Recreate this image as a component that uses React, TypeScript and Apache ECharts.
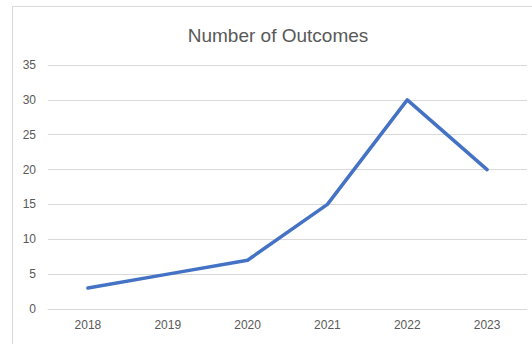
import React, { useEffect, useRef } from "react";
import * as echarts from "echarts";

const categories = ["2018", "2019", "2020", "2021", "2022", "2023"];
const outcomes = [3, 5, 7, 15, 30, 20];
const chartTitle = "Number of Outcomes";

export default function App() {
  const ref = useRef<HTMLDivElement>(null);
  useEffect(() => {
    if (!ref.current) return;
    const chart = echarts.init(ref.current, undefined, { renderer: "svg" });
    const font = "Liberation Sans, Arial, sans-serif";
    chart.setOption({
      animation: false,
      backgroundColor: "#ffffff",
      title: {
        text: chartTitle,
        left: 273,
        top: 21,
        textAlign: "center",
        textStyle: { fontFamily: font, fontSize: 19, fontWeight: "normal", color: "#595959" },
      },
      graphic: [
        {
          type: "rect",
          shape: { x: 12.5, y: 6.5, width: 600, height: 400 },
          style: { fill: "none", stroke: "#d9d9d9", lineWidth: 1 },
          silent: true,
        },
      ],
      grid: { left: 48, right: 5, top: 65, bottom: 35 },
      xAxis: {
        type: "category",
        data: categories,
        boundaryGap: true,
        axisLine: { show: true, lineStyle: { color: "#d9d9d9", width: 1 } },
        axisTick: { show: false },
        axisLabel: { color: "#595959", fontFamily: font, fontSize: 12, margin: 10 },
      },
      yAxis: {
        type: "value",
        min: 0,
        max: 35,
        interval: 5,
        axisLine: { show: false },
        axisTick: { show: false },
        splitLine: { lineStyle: { color: "#d9d9d9", width: 1 } },
        axisLabel: { color: "#595959", fontFamily: font, fontSize: 12, margin: 12 },
      },
      series: [
        {
          type: "line",
          data: outcomes,
          showSymbol: false,
          symbol: "none",
          lineStyle: { color: "#4472C4", width: 3.5, cap: "round", join: "round" },
          itemStyle: { color: "#4472C4" },
        },
      ],
    });
    return () => chart.dispose();
  }, []);
  return (
    <div style={{ position: "fixed", left: 0, top: 0, width: 532, height: 344, background: "#fff" }}>
      <div ref={ref} style={{ width: 532, height: 344 }} />
    </div>
  );
}
